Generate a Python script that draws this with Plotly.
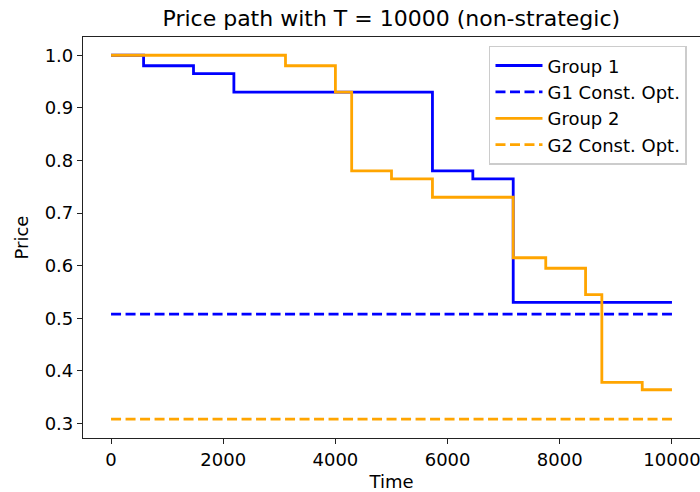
import plotly.graph_objects as go

# Price paths (step functions: price holds until the next change time)
g1_times = [0, 580, 1470, 2190, 5730, 6450, 7170, 10000]
g1_prices = [1.0, 0.98, 0.965, 0.93, 0.78, 0.765, 0.53, 0.53]

g2_times = [0, 3110, 4000, 4290, 5000, 5730, 7170, 7750, 8460, 8750, 9470, 10000]
g2_prices = [1.0, 0.98, 0.93, 0.78, 0.765, 0.73, 0.615, 0.595, 0.545, 0.378, 0.364, 0.364]

# Constant optimal prices
horizon = [0, 10000]
g1_const_opt = 0.508
g2_const_opt = 0.308

x_ticks = [0, 2000, 4000, 6000, 8000, 10000]
x_tick_labels = ["0", "2000", "4000", "6000", "8000", "10000"]
y_ticks = [0.3, 0.4, 0.5, 0.6, 0.7, 0.8, 0.9, 1.0]

BLUE = "#0000ff"
ORANGE = "#ffa500"
LW = 2.8
DASH = "10px,4.5px"
FONT = "DejaVu Sans"

fig = go.Figure()
fig.add_trace(go.Scatter(x=g1_times, y=g1_prices, mode="lines", name="Group 1",
                         line=dict(color=BLUE, width=LW, shape="hv"), legendgroup="a"))
fig.add_trace(go.Scatter(x=horizon, y=[g1_const_opt] * 2, mode="lines", name="G1 Const. Opt.",
                         line=dict(color=BLUE, width=LW, dash=DASH), legendgroup="b"))
fig.add_trace(go.Scatter(x=g2_times, y=g2_prices, mode="lines", name="Group 2",
                         line=dict(color=ORANGE, width=LW, shape="hv"), legendgroup="c"))
fig.add_trace(go.Scatter(x=horizon, y=[g2_const_opt] * 2, mode="lines", name="G2 Const. Opt.",
                         line=dict(color=ORANGE, width=LW, dash=DASH), legendgroup="d"))

axis_common = dict(showline=True, linecolor="#222222", linewidth=1.2, mirror=True,
                   ticks="outside", ticklen=5, tickwidth=1.2, tickcolor="#222222",
                   showgrid=False, zeroline=False, ticklabeloverflow="allow",
                   tickfont=dict(family=FONT, size=18, color="black"),
                   title_font=dict(family=FONT, size=18, color="black"))

fig.update_layout(
    width=700, height=492,
    margin=dict(l=83, r=0, t=37, b=54),
    paper_bgcolor="white", plot_bgcolor="white",
    title=dict(text="Price path with T = 10000 (non-strategic)", x=0.559,
               xanchor="center", y=0.963, yanchor="middle",
               font=dict(family=FONT, size=22, color="black")),
    xaxis=dict(range=[-500, 10500], tickvals=x_ticks, ticktext=x_tick_labels,
               title=dict(text="Time", standoff=8), **axis_common),
    yaxis=dict(range=[0.2723, 1.0347], tickvals=y_ticks, tickformat=".1f",
               title=dict(text="Price", standoff=11), **axis_common),
    legend=dict(x=0.658, y=0.978, xanchor="left", yanchor="top",
                bgcolor="rgba(255,255,255,0.8)", bordercolor="#cccccc", borderwidth=1.5,
                font=dict(family=FONT, size=18, color="black"),
                traceorder="grouped", tracegroupgap=0, itemwidth=47),
    showlegend=True,
)

fig.write_html("out.html")
